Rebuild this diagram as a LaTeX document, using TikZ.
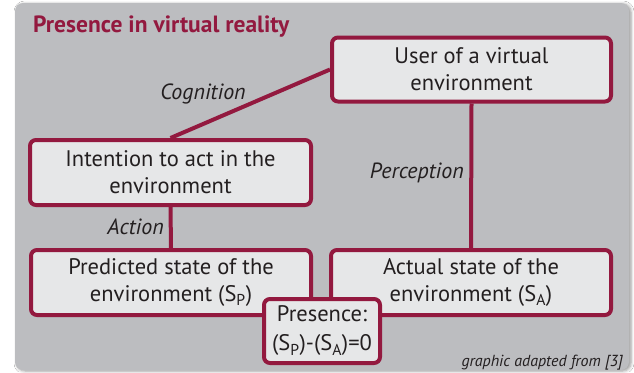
\documentclass[tikz,border=0pt]{standalone}
\usepackage{fontspec}
\setmainfont{PT Sans}
\usetikzlibrary{positioning,shadows.blur}
\definecolor{wine}{HTML}{93193F}
\definecolor{panel}{HTML}{BCBDC0}
\definecolor{boxfill}{HTML}{E6E7E8}
\definecolor{ink}{HTML}{231F20}
\tikzset{
  every picture/.style={line join=round, line cap=butt},
  box/.style={draw=wine, fill=boxfill, line width=4pt, rounded corners=6pt, align=center, text=ink, inner sep=0pt, font=\fontsize{22.5}{27}\selectfont},
  link/.style={draw=wine, line width=4pt},
  lbl/.style={text=ink, inner sep=0pt, font=\fontsize{22}{26}\selectfont\itshape},
}

\begin{document}
\begin{tikzpicture}[x=1pt,y=-1pt]
\useasboundingbox[fill=white] (0,0) rectangle (634,372);
% grey panel
\fill[panel, rounded corners=8pt, blur shadow={shadow xshift=2pt, shadow yshift=-1pt, shadow blur radius=3pt}] (15,3) rectangle (629,370);
\node[anchor=base west, inner sep=0pt, text=wine, font=\fontsize{23.5}{27}\selectfont\bfseries] (title) at (33,32) {Presence in virtual reality};
% the four states
\node[box, minimum width=279pt, minimum height=64pt] (user) at (471.5,69.5) {User of a virtual\\environment};
\node[box, minimum width=281pt, minimum height=65pt] (intent) at (170.5,172.5) {Intention to act in the\\environment};
\node[box, minimum width=280pt, minimum height=65pt] (predicted) at (171,282.5) {Predicted state of the\\environment (S\textsubscript{P})};
\node[box, minimum width=280pt, minimum height=65pt] (actual) at (471,282.5) {Actual state of the\\environment (S\textsubscript{A})};
% links
\draw[link] (intent.north) -- (user.west);
\draw[link] (user.south) -- (actual.north);
\draw[link] (intent.south) -- (predicted.north);
\node[lbl] (cognition) at (203,94) {Cognition};
\node[lbl, anchor=east] (perception) at (464,173) {Perception};
\node[lbl, anchor=east] (action) at (164,227) {Action};
% difference of the two states
\node[box, minimum width=116pt, minimum height=64pt, font=\fontsize{22.5}{29}\selectfont] (presence) at (322,331) {Presence:\\(S\textsubscript{P})-(S\textsubscript{A})=0};
\node[lbl, anchor=base east, font=\fontsize{16}{18}\selectfont\itshape] (source) at (623,366) {graphic adapted from [3]};
\end{tikzpicture}
\end{document}
